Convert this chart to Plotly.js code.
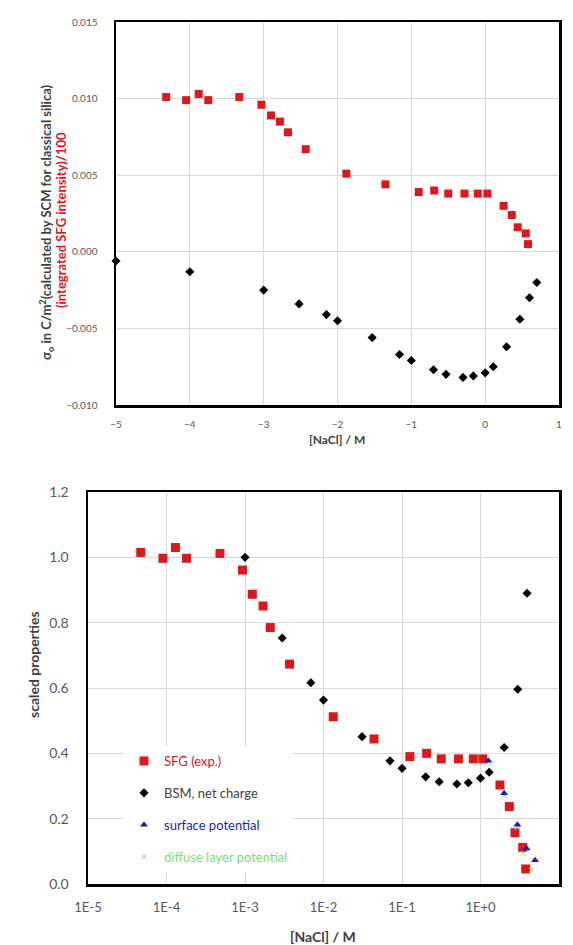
<!DOCTYPE html>
<html>
<head>
<meta charset="utf-8">
<script src="https://cdn.plot.ly/plotly-3.0.1.min.js"></script>
<style>
  html, body { margin: 0; padding: 0; background: #ffffff; }
  #chart { width: 573px; height: 945px; }
</style>
</head>
<body>
<div id="chart"></div>
<script>
// ---------- Top panel: log10([NaCl]) vs charge density ----------
const topSfgLogC = [-4.32, -4.05, -3.88, -3.75, -3.33, -3.03, -2.90, -2.78, -2.67, -2.43, -1.88, -1.35, -0.90, -0.69, -0.50, -0.28, -0.10, 0.03, 0.25, 0.36, 0.44, 0.55, 0.58];
const topSfgValue = [0.0101, 0.0099, 0.0103, 0.0099, 0.0101, 0.0096, 0.0089, 0.0085, 0.0078, 0.0067, 0.0051, 0.0044, 0.0039, 0.0040, 0.0038, 0.0038, 0.0038, 0.0038, 0.0030, 0.0024, 0.0016, 0.0012, 0.0005];
const topBsmLogC = [-5.0, -4.0, -3.0, -2.52, -2.15, -2.0, -1.53, -1.16, -1.0, -0.70, -0.53, -0.30, -0.16, 0.0, 0.11, 0.29, 0.47, 0.60, 0.70];
const topBsmValue = [-0.0006, -0.0013, -0.0025, -0.0034, -0.0041, -0.0045, -0.0056, -0.0067, -0.0071, -0.0077, -0.0080, -0.0082, -0.0081, -0.0079, -0.0075, -0.0062, -0.0044, -0.0030, -0.0020];
const topXTicks = [-5, -4, -3, -2, -1, 0, 1];
const topYTicks = [-0.010, -0.005, 0.000, 0.005, 0.010, 0.015];

// ---------- Bottom panel: [NaCl] (log axis) vs scaled properties ----------
const sfgConc = [4.7e-5, 9.0e-5, 1.3e-4, 1.8e-4, 4.8e-4, 9.3e-4, 1.24e-3, 1.7e-3, 2.1e-3, 3.7e-3, 1.33e-2, 4.4e-2, 0.126, 0.206, 0.316, 0.525, 0.81, 1.07, 1.77, 2.33, 2.75, 3.45, 3.77];
const sfgScaled = [1.015, 0.997, 1.03, 0.997, 1.012, 0.961, 0.887, 0.851, 0.785, 0.673, 0.512, 0.444, 0.39, 0.40, 0.383, 0.383, 0.383, 0.383, 0.303, 0.237, 0.157, 0.112, 0.046];
const bsmConc = [1e-3, 2.98e-3, 6.9e-3, 1e-2, 3.1e-2, 0.0703, 0.1, 0.2, 0.298, 0.5, 0.7, 1.0, 1.29, 2.0, 2.98, 3.92];
const bsmScaled = [1.0, 0.753, 0.616, 0.563, 0.451, 0.377, 0.354, 0.328, 0.313, 0.306, 0.31, 0.324, 0.342, 0.418, 0.596, 0.890];
const surfConc = [1.26, 2.0, 2.95, 3.87, 4.95];
const surfScaled = [0.377, 0.278, 0.181, 0.109, 0.073];
const diffConc = [1.26, 2.0, 2.95, 3.55, 4.47];
const diffScaled = [0.372, 0.272, 0.172, 0.094, 0.043];
const bottomXTickVals = [1e-5, 1e-4, 1e-3, 1e-2, 1e-1, 1e0, 1e1];
const bottomXTickText = ['1E-5', '1E-4', '1E-3', '1E-2', '1E-1', '1E+0', '1E+1'];
const bottomYTicks = [0.0, 0.2, 0.4, 0.6, 0.8, 1.0, 1.2];

const RED = '#dc181c';
const BLACK = '#000000';
const BLUE = '#1c1cb0';
const GREEN = '#7ddc7d';
const W = 573, H = 945;
const px = v => v / W;
const py = v => 1 - v / H;

const traces = [
  { x: topSfgLogC, y: topSfgValue, xaxis: 'x', yaxis: 'y', mode: 'markers', type: 'scatter',
    marker: { symbol: 'square', size: 8, color: RED }, showlegend: false, cliponaxis: false },
  { x: topBsmLogC, y: topBsmValue, xaxis: 'x', yaxis: 'y', mode: 'markers', type: 'scatter',
    marker: { symbol: 'diamond', size: 7, color: BLACK }, showlegend: false, cliponaxis: false },

  { x: sfgConc, y: sfgScaled, xaxis: 'x2', yaxis: 'y2', mode: 'markers', type: 'scatter',
    name: '<span style="color:' + RED + '">SFG (exp.)</span>', legendgroup: 'a', legendrank: 1,
    marker: { symbol: 'square', size: 9, color: RED }, cliponaxis: false },
  { x: bsmConc, y: bsmScaled, xaxis: 'x2', yaxis: 'y2', mode: 'markers', type: 'scatter',
    name: '<span style="color:#404040">BSM, net charge</span>', legendgroup: 'b', legendrank: 2,
    marker: { symbol: 'diamond', size: 7, color: BLACK }, cliponaxis: false },
  { x: diffConc, y: diffScaled, xaxis: 'x2', yaxis: 'y2', mode: 'markers', type: 'scatter',
    name: '<span style="color:' + GREEN + '">diffuse layer potential</span>', legendgroup: 'd', legendrank: 4,
    marker: { symbol: 'x-thin', size: 5, color: GREEN, line: { color: GREEN, width: 1 } }, cliponaxis: false },
  { x: surfConc, y: surfScaled, xaxis: 'x2', yaxis: 'y2', mode: 'markers', type: 'scatter',
    name: '<span style="color:' + BLUE + '">surface potential</span>', legendgroup: 'c', legendrank: 3,
    marker: { symbol: 'triangle-up', size: 7, color: BLUE }, cliponaxis: false }
];

const axisCommon = {
  showgrid: true, gridcolor: '#d9d9d9', gridwidth: 1, zeroline: false,
  showline: true, linecolor: '#000000', linewidth: 2.5, mirror: true,
  ticks: '', fixedrange: true
};

const layout = {
  width: W, height: H,
  margin: { l: 0, r: 0, t: 0, b: 0 },
  paper_bgcolor: '#ffffff', plot_bgcolor: '#ffffff',
  font: { family: 'Lato, "Open Sans", sans-serif', color: '#595959' },
  showlegend: true,
  legend: {
    x: px(124), y: py(746), xanchor: 'left', yanchor: 'top',
    bgcolor: '#ffffff', borderwidth: 0,
    font: { size: 13, family: 'Lato, sans-serif', color: '#404040' },
    traceorder: 'grouped', tracegroupgap: 12, itemsizing: 'trace'
  },
  xaxis: Object.assign({}, axisCommon, {
    domain: [px(116), px(559)], anchor: 'y',
    range: [-5, 1], tickvals: topXTicks, tickformat: 'd',
    tickfont: { size: 10, color: '#595959' }, ticklabelstandoff: 8
  }),
  yaxis: Object.assign({}, axisCommon, {
    domain: [py(405), py(22)], anchor: 'x',
    range: [-0.010, 0.015], tickvals: topYTicks, tickformat: '.3f',
    tickfont: { size: 10, color: '#595959' }, ticklabelstandoff: 14
  }),
  xaxis2: Object.assign({}, axisCommon, {
    domain: [px(88), px(559)], anchor: 'y2',
    type: 'log', range: [-5, 1], tickvals: bottomXTickVals, ticktext: bottomXTickText,
    tickfont: { size: 13, color: '#595959' }, ticklabelstandoff: 10
  }),
  yaxis2: Object.assign({}, axisCommon, {
    domain: [py(884), py(492)], anchor: 'x2',
    range: [0, 1.2], tickvals: bottomYTicks, tickformat: '.1f',
    tickfont: { size: 14, color: '#595959' }, ticklabelstandoff: 14
  }),
  annotations: [
    { xref: 'paper', yref: 'paper', x: px(46), y: py(222), xanchor: 'center', yanchor: 'middle',
      textangle: -90, showarrow: false,
      text: '<b>σ<sub>o</sub> in C/m<sup>2</sup>(calculated by SCM for classical silica)</b>',
      font: { size: 13, color: '#404040', family: 'Lato, sans-serif' } },
    { xref: 'paper', yref: 'paper', x: px(61), y: py(220), xanchor: 'center', yanchor: 'middle',
      textangle: -90, showarrow: false,
      text: '<b>(integrated SFG intensity)/100</b>',
      font: { size: 13, color: RED, family: 'Lato, sans-serif' } },
    { xref: 'paper', yref: 'paper', x: px(337), y: py(439), xanchor: 'center', yanchor: 'middle',
      showarrow: false, text: '<b>[NaCl] / M</b>',
      font: { size: 12, color: '#404040', family: 'Lato, sans-serif' } },
    { xref: 'paper', yref: 'paper', x: px(33), y: py(665), xanchor: 'center', yanchor: 'middle',
      textangle: -90, showarrow: false, text: '<b>scaled properties</b>',
      font: { size: 14, color: '#404040', family: 'Lato, sans-serif' } },
    { xref: 'paper', yref: 'paper', x: px(323), y: py(936), xanchor: 'center', yanchor: 'middle',
      showarrow: false, text: '<b>[NaCl] / M</b>',
      font: { size: 14, color: '#404040', family: 'Lato, sans-serif' } }
  ]
};

Plotly.newPlot('chart', traces, layout, { displayModeBar: false, staticPlot: true });
</script>
</body>
</html>
